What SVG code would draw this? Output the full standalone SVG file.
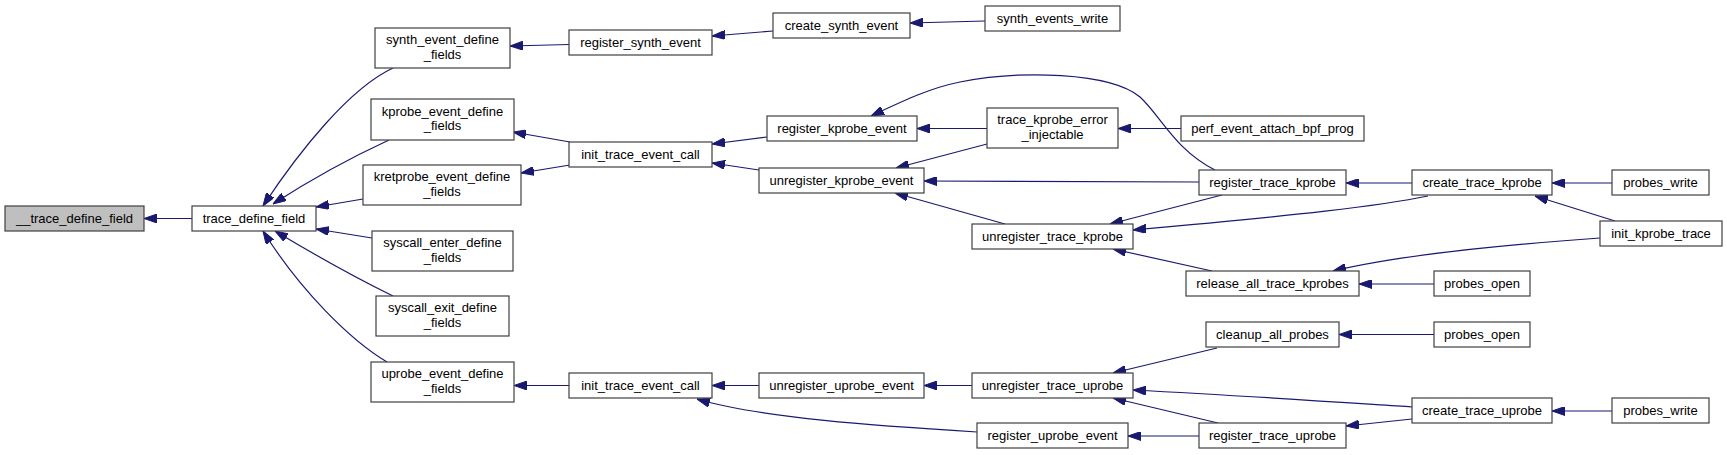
<svg xmlns="http://www.w3.org/2000/svg" width="1727" height="455" viewBox="0 0 1727 455">
<style>
.n rect{fill:#ffffff;stroke:#404040;stroke-width:1.2}
.n.hl rect{fill:#bfbfbf}
.n text{font-family:"Liberation Sans",Arial,Helvetica,sans-serif;font-size:13px;fill:#000000;text-anchor:middle}
.e path{fill:none;stroke:#191970;stroke-width:1.2;marker-end:url(#ah)}
</style>
<defs>
<marker id="ah" markerUnits="userSpaceOnUse" viewBox="0 0 13 9" markerWidth="13" markerHeight="9" refX="13" refY="4.5" orient="auto">
<path d="M0,0 L13,4.5 L0,9 z" fill="#191970" stroke="#191970" stroke-width="1"/>
</marker>
</defs>
<rect x="0" y="0" width="1727" height="455" fill="#ffffff"/>
<g id="edges" class="e">
<path d="M192,218.5 L144,218.5"/>
<path d="M393,68 C350,88 300,150 263,206"/>
<path d="M389,140 C350,158 310,180 273,204"/>
<path d="M363,199 L316,207"/>
<path d="M372,238 L316,229"/>
<path d="M393,296 C350,275 310,252 275,231"/>
<path d="M387,362 C350,340 300,290 263,231"/>
<path d="M569,44.5 L510,46"/>
<path d="M773,31 L712,36"/>
<path d="M985,21 L910,23"/>
<path d="M570,142 L513,132"/>
<path d="M570,165 L521,173"/>
<path d="M767,137 L712,144"/>
<path d="M759,170 L712,163"/>
<path d="M569,385.5 L514,385.5"/>
<path d="M759,385.5 L712,385.5"/>
<path d="M977,432 C880,426 760,418 697,399"/>
<path d="M987,128.5 L917,128.5"/>
<path d="M987,144 L896,168"/>
<path d="M1181,128.5 L1118,128.5"/>
<path d="M1215,170 C1175,150 1160,115 1140,97 C1110,72 1020,70 960,82 C930,88 905,100 871,116"/>
<path d="M1199,182 L924,181"/>
<path d="M1005,224 L895,193"/>
<path d="M1222,195 L1110,224"/>
<path d="M1428,196 C1380,206 1300,215 1133,230"/>
<path d="M1412,183 L1346,183"/>
<path d="M1612,183 L1552,183"/>
<path d="M1615,221 L1535,196"/>
<path d="M1212,271 L1113,249"/>
<path d="M1600,238 C1500,245 1400,255 1333,271"/>
<path d="M1434,284 L1359,284"/>
<path d="M1217,348 L1113,373"/>
<path d="M1434,334.5 L1339,334.5"/>
<path d="M972,385.5 L924,385.5"/>
<path d="M1412,407 C1350,403 1250,396 1133,390"/>
<path d="M1218,423 L1113,398"/>
<path d="M1199,436 L1128,436"/>
<path d="M1412,419 L1346,426"/>
<path d="M1612,411 L1552,411"/>
</g>
<g id="n0" class="n hl"><rect x="5" y="206" width="139" height="25"/><text x="74.5" y="223">__trace_define_field</text></g>
<g id="n1" class="n"><rect x="192" y="206" width="124" height="25"/><text x="254" y="223">trace_define_field</text></g>
<g id="n2" class="n"><rect x="375" y="28" width="135" height="40"/><text x="442.5" y="44">synth_event_define</text><text x="442.5" y="58.5">_fields</text></g>
<g id="n3" class="n"><rect x="371" y="99" width="143" height="41"/><text x="442.5" y="115.5">kprobe_event_define</text><text x="442.5" y="130">_fields</text></g>
<g id="n4" class="n"><rect x="363" y="165" width="158" height="40"/><text x="442" y="181">kretprobe_event_define</text><text x="442" y="195.5">_fields</text></g>
<g id="n5" class="n"><rect x="372" y="231" width="141" height="40"/><text x="442.5" y="247">syscall_enter_define</text><text x="442.5" y="261.5">_fields</text></g>
<g id="n6" class="n"><rect x="376" y="296" width="133" height="40"/><text x="442.5" y="312">syscall_exit_define</text><text x="442.5" y="326.5">_fields</text></g>
<g id="n7" class="n"><rect x="371" y="362" width="143" height="40"/><text x="442.5" y="378">uprobe_event_define</text><text x="442.5" y="392.5">_fields</text></g>
<g id="n8" class="n"><rect x="569" y="30" width="143" height="25"/><text x="640.5" y="47">register_synth_event</text></g>
<g id="n9" class="n"><rect x="773" y="13" width="137" height="25"/><text x="841.5" y="30">create_synth_event</text></g>
<g id="n10" class="n"><rect x="985" y="6" width="135" height="25"/><text x="1052.5" y="23">synth_events_write</text></g>
<g id="n11" class="n"><rect x="569" y="142" width="143" height="25"/><text x="640.5" y="159">init_trace_event_call</text></g>
<g id="n12" class="n"><rect x="767" y="116" width="150" height="25"/><text x="842" y="133">register_kprobe_event</text></g>
<g id="n13" class="n"><rect x="759" y="168" width="165" height="25"/><text x="841.5" y="185">unregister_kprobe_event</text></g>
<g id="n14" class="n"><rect x="569" y="373" width="143" height="25"/><text x="640.5" y="390">init_trace_event_call</text></g>
<g id="n15" class="n"><rect x="759" y="373" width="165" height="25"/><text x="841.5" y="390">unregister_uprobe_event</text></g>
<g id="n16" class="n"><rect x="987" y="108" width="131" height="40"/><text x="1052.5" y="124">trace_kprobe_error</text><text x="1052.5" y="138.5">_injectable</text></g>
<g id="n17" class="n"><rect x="1181" y="116" width="183" height="25"/><text x="1272.5" y="133">perf_event_attach_bpf_prog</text></g>
<g id="n18" class="n"><rect x="1199" y="170" width="147" height="25"/><text x="1272.5" y="187">register_trace_kprobe</text></g>
<g id="n19" class="n"><rect x="972" y="224" width="161" height="25"/><text x="1052.5" y="241">unregister_trace_kprobe</text></g>
<g id="n20" class="n"><rect x="1186" y="271" width="173" height="25"/><text x="1272.5" y="288">release_all_trace_kprobes</text></g>
<g id="n21" class="n"><rect x="1206" y="322" width="133" height="25"/><text x="1272.5" y="339">cleanup_all_probes</text></g>
<g id="n22" class="n"><rect x="972" y="373" width="161" height="25"/><text x="1052.5" y="390">unregister_trace_uprobe</text></g>
<g id="n23" class="n"><rect x="977" y="423" width="151" height="25"/><text x="1052.5" y="440">register_uprobe_event</text></g>
<g id="n24" class="n"><rect x="1199" y="423" width="147" height="25"/><text x="1272.5" y="440">register_trace_uprobe</text></g>
<g id="n25" class="n"><rect x="1412" y="170" width="140" height="25"/><text x="1482" y="187">create_trace_kprobe</text></g>
<g id="n26" class="n"><rect x="1612" y="170" width="97" height="25"/><text x="1660.5" y="187">probes_write</text></g>
<g id="n27" class="n"><rect x="1600" y="221" width="122" height="25"/><text x="1661" y="238">init_kprobe_trace</text></g>
<g id="n28" class="n"><rect x="1434" y="271" width="96" height="25"/><text x="1482" y="288">probes_open</text></g>
<g id="n29" class="n"><rect x="1434" y="322" width="96" height="25"/><text x="1482" y="339">probes_open</text></g>
<g id="n30" class="n"><rect x="1412" y="398" width="140" height="25"/><text x="1482" y="415">create_trace_uprobe</text></g>
<g id="n31" class="n"><rect x="1612" y="398" width="97" height="25"/><text x="1660.5" y="415">probes_write</text></g>
</svg>
